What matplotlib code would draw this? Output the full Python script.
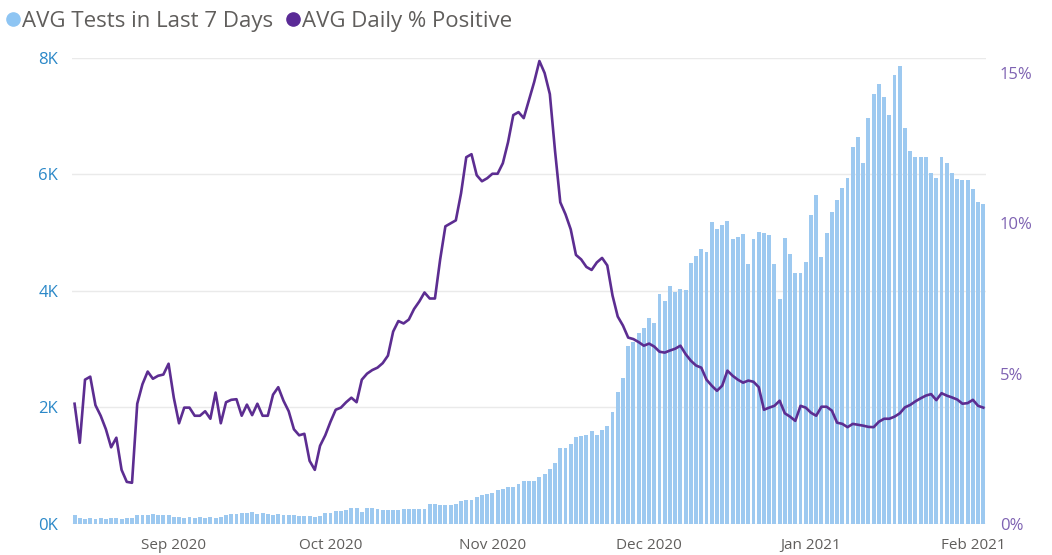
import matplotlib
matplotlib.use("Agg")
import matplotlib.pyplot as plt
from matplotlib.ticker import FuncFormatter, FixedLocator
from matplotlib.lines import Line2D
import pandas as pd

plt.rcParams['font.family'] = ['Open Sans', 'DejaVu Sans']

start_date = "2020-08-13"
end_date = "2021-02-03"

tests_k = [
    0.16, 0.10, 0.09, 0.10, 0.09, 0.10, 0.09, 0.10, 0.10, 0.09,
    0.10, 0.10, 0.15, 0.16, 0.16, 0.17, 0.16, 0.15, 0.16, 0.12,
    0.12, 0.11, 0.12, 0.11, 0.12, 0.11, 0.12, 0.10, 0.12, 0.16,
    0.17, 0.17, 0.18, 0.19, 0.20, 0.17, 0.18, 0.17, 0.16, 0.17,
    0.16, 0.15, 0.16, 0.14, 0.13, 0.14, 0.12, 0.13, 0.18, 0.19,
    0.22, 0.23, 0.24, 0.27, 0.27, 0.21, 0.27, 0.27, 0.26, 0.24,
    0.24, 0.24, 0.24, 0.25, 0.26, 0.26, 0.26, 0.26, 0.34, 0.34,
    0.32, 0.33, 0.33, 0.34, 0.39, 0.41, 0.42, 0.46, 0.50, 0.52,
    0.53, 0.58, 0.60, 0.63, 0.63, 0.69, 0.73, 0.74, 0.74, 0.80,
    0.86, 0.95, 1.05, 1.30, 1.31, 1.37, 1.50, 1.51, 1.52, 1.60,
    1.52, 1.62, 1.68, 1.92, 2.27, 2.50, 3.06, 3.13, 3.28, 3.37,
    3.54, 3.45, 3.95, 3.83, 4.08, 3.98, 4.03, 4.02, 4.48, 4.60,
    4.72, 4.67, 5.18, 5.07, 5.13, 5.20, 4.90, 4.93, 4.97, 4.47,
    4.90, 5.01, 5.00, 4.96, 4.47, 3.87, 4.91, 4.63, 4.31, 4.31,
    4.49, 5.30, 5.64, 4.59, 5.00, 5.36, 5.56, 5.76, 5.94, 6.47,
    6.64, 6.20, 6.97, 7.39, 7.56, 7.33, 7.02, 7.70, 7.86, 6.80,
    6.40, 6.30, 6.30, 6.30, 6.03, 5.94, 6.30, 6.20, 6.03, 5.92,
    5.90, 5.90, 5.75, 5.53, 5.50,
]

pct_positive = [
    4.00, 2.70, 4.80, 4.90, 3.95, 3.60, 3.15, 2.55, 2.87, 1.80,
    1.40, 1.37, 4.00, 4.65, 5.07, 4.83, 4.93, 4.97, 5.33, 4.20,
    3.35, 3.87, 3.87, 3.60, 3.60, 3.75, 3.50, 4.37, 3.35, 4.05,
    4.13, 4.15, 3.60, 3.97, 3.62, 4.00, 3.60, 3.60, 4.30, 4.55,
    4.10, 3.75, 3.15, 2.95, 3.00, 2.10, 1.80, 2.60, 2.95, 3.40,
    3.80, 3.87, 4.05, 4.20, 4.05, 4.80, 5.00, 5.12, 5.20, 5.35,
    5.60, 6.40, 6.75, 6.67, 6.80, 7.15, 7.40, 7.70, 7.50, 7.50,
    8.80, 9.90, 10.00, 10.10, 11.00, 12.20, 12.30, 11.60, 11.40, 11.50,
    11.65, 11.65, 12.00, 12.70, 13.60, 13.70, 13.50, 14.10, 14.70, 15.40,
    15.00, 14.30, 12.40, 10.70, 10.30, 9.80, 8.95, 8.80, 8.55, 8.45,
    8.70, 8.85, 8.60, 7.60, 6.90, 6.60, 6.20, 6.15, 6.05, 5.93,
    6.00, 5.90, 5.73, 5.70, 5.77, 5.83, 5.93, 5.65, 5.43, 5.27,
    5.20, 4.80, 4.60, 4.43, 4.60, 5.10, 4.93, 4.80, 4.70, 4.77,
    4.73, 4.55, 3.80, 3.87, 3.93, 4.10, 3.68, 3.57, 3.43, 3.93,
    3.87, 3.70, 3.60, 3.90, 3.90, 3.77, 3.37, 3.33, 3.22, 3.33,
    3.30, 3.27, 3.23, 3.22, 3.40, 3.50, 3.50, 3.57, 3.68, 3.88,
    3.96, 4.08, 4.18, 4.27, 4.32, 4.12, 4.35, 4.27, 4.21, 4.14,
    4.00, 4.02, 4.13, 3.93, 3.87,
]

left_ticks = [0, 2000, 4000, 6000, 8000]
right_ticks = [0, 5, 10, 15]
x_tick_dates = ["2020-09-01", "2020-10-01", "2020-11-01", "2020-12-01", "2021-01-01", "2021-02-01"]
x_tick_labels = ["Sep 2020", "Oct 2020", "Nov 2020", "Dec 2020", "Jan 2021", "Feb 2021"]
legend_labels = ["AVG Tests in Last 7 Days", "AVG Daily % Positive"]

dates = pd.date_range(start_date, end_date, freq="D")
tests = [v * 1000 for v in tests_k]

bar_color = "#9DC9F0"
line_color = "#5C2D91"

fig = plt.figure(figsize=(10.52, 5.55), dpi=100)
ax = fig.add_axes([0.0684, 0.0559, 0.8688, 0.8396])
ax2 = ax.twinx()

ax.bar(dates, tests, width=0.75, color=bar_color, zorder=2)
ax2.plot(dates, pct_positive, color=line_color, linewidth=1.9, zorder=3)

ax.set_ylim(0, 8000)
ax2.set_ylim(0, 15.5)
ax.set_xlim(dates[0] - pd.Timedelta(days=0.5), dates[-1] + pd.Timedelta(days=0.5))

ax.yaxis.set_major_locator(FixedLocator(left_ticks))
ax.yaxis.set_major_formatter(FuncFormatter(lambda v, p: f"{int(v/1000)}K"))
ax2.yaxis.set_major_locator(FixedLocator(right_ticks))
ax2.yaxis.set_major_formatter(FuncFormatter(lambda v, p: f"{int(v)}%"))

ax.set_xticks(pd.to_datetime(x_tick_dates))
ax.set_xticklabels(x_tick_labels)

ax.grid(axis="y", color="#EAEAEA", linewidth=1.0, zorder=0)
ax.set_axisbelow(True)
for a in (ax, ax2):
    for s in a.spines.values():
        s.set_visible(False)
    a.tick_params(length=0)

ax.tick_params(axis="y", colors="#2B88C8", labelsize=12, pad=10)
ax.tick_params(axis="x", colors="#605E5C", labelsize=11, pad=10)
ax2.tick_params(axis="y", colors="#7E62B2", labelsize=12, pad=10)

handles = [
    Line2D([], [], marker="o", linestyle="none", markersize=9.5, color="#8EC5F3"),
    Line2D([], [], marker="o", linestyle="none", markersize=9.5, color="#5A2A96"),
]
fig.legend(handles, legend_labels,
           loc="center left", bbox_to_anchor=(0.006, 0.962), ncol=2, frameon=False,
           fontsize=16, labelcolor="#605E5C", handletextpad=0.1,
           columnspacing=0.6, borderaxespad=0.0, borderpad=0.0, handlelength=0.6)

fig.savefig("out.png", dpi=100, facecolor="white")
